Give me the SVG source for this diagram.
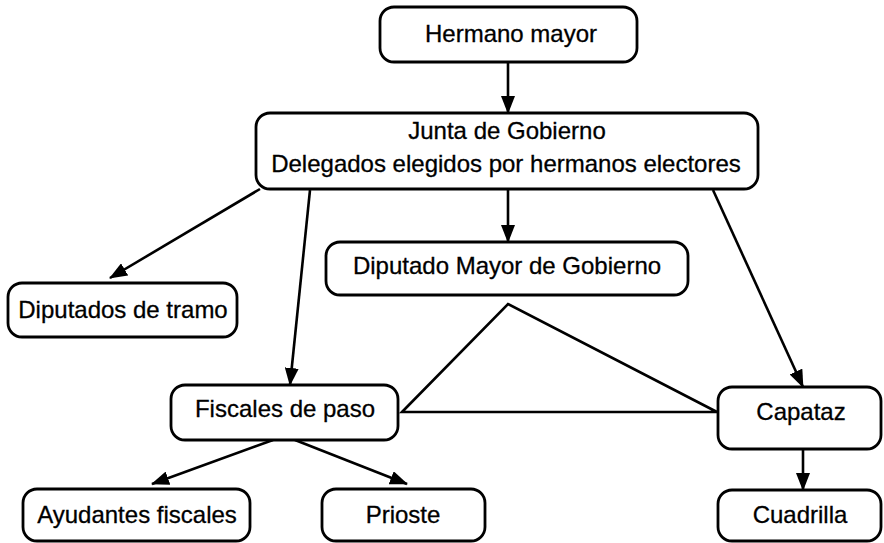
<svg xmlns="http://www.w3.org/2000/svg" width="884" height="543" viewBox="0 0 884 543">
<style>
.box{fill:#fff;stroke:#000;stroke-width:2.8}
.lbl{font-family:"Liberation Sans",Arial,sans-serif;font-size:24px;fill:#000;stroke:#000;stroke-width:0.3;text-anchor:middle}
.ln{stroke:#000;stroke-width:2.6;fill:none}
</style>
<defs>
<marker id="ah" markerUnits="userSpaceOnUse" markerWidth="18" markerHeight="14" refX="17" refY="7" orient="auto">
<path d="M0,0 L18,7 L0,14 z" fill="#000"/>
</marker>
</defs>
<rect width="884" height="543" fill="#fff"/>
<g id="connectors">
<line class="ln" x1="508" y1="62" x2="508" y2="113" marker-end="url(#ah)"/>
<line class="ln" x1="260" y1="189" x2="110" y2="278" marker-end="url(#ah)"/>
<line class="ln" x1="310" y1="190" x2="290" y2="385" marker-end="url(#ah)"/>
<line class="ln" x1="508" y1="189" x2="508" y2="242" marker-end="url(#ah)"/>
<line class="ln" x1="713" y1="190" x2="803" y2="387" marker-end="url(#ah)"/>
<path class="ln" d="M402,412 L508,304 L717,412 Z"/>
<line class="ln" x1="273" y1="440" x2="152" y2="484" marker-end="url(#ah)"/>
<line class="ln" x1="295" y1="440" x2="407" y2="484" marker-end="url(#ah)"/>
<line class="ln" x1="803" y1="449" x2="803" y2="490" marker-end="url(#ah)"/>
</g>
<g id="hermano-mayor">
<rect class="box" x="380" y="7" width="257" height="55" rx="14"/>
<text class="lbl" x="511" y="42">Hermano mayor</text>
</g>
<g id="junta-de-gobierno">
<rect class="box" x="256" y="113" width="502" height="76" rx="14"/>
<text class="lbl" x="507" y="139">Junta de Gobierno</text>
<text class="lbl" x="506" y="172">Delegados elegidos por hermanos electores</text>
</g>
<g id="diputados-de-tramo">
<rect class="box" x="8" y="283" width="229" height="54" rx="14"/>
<text class="lbl" x="123" y="318">Diputados de tramo</text>
</g>
<g id="diputado-mayor">
<rect class="box" x="326" y="242" width="362" height="53" rx="14"/>
<text class="lbl" x="507" y="274">Diputado Mayor de Gobierno</text>
</g>
<g id="fiscales-de-paso">
<rect class="box" x="171" y="385" width="227" height="55" rx="14"/>
<text class="lbl" x="285" y="417">Fiscales de paso</text>
</g>
<g id="capataz">
<rect class="box" x="718" y="387" width="163" height="62" rx="14"/>
<text class="lbl" x="801" y="420">Capataz</text>
</g>
<g id="ayudantes-fiscales">
<rect class="box" x="23" y="489" width="227" height="52" rx="14"/>
<text class="lbl" x="137" y="523">Ayudantes fiscales</text>
</g>
<g id="prioste">
<rect class="box" x="322" y="489" width="163" height="52" rx="14"/>
<text class="lbl" x="403" y="523">Prioste</text>
</g>
<g id="cuadrilla">
<rect class="box" x="718" y="490" width="163" height="51" rx="14"/>
<text class="lbl" x="800" y="523">Cuadrilla</text>
</g>
</svg>
